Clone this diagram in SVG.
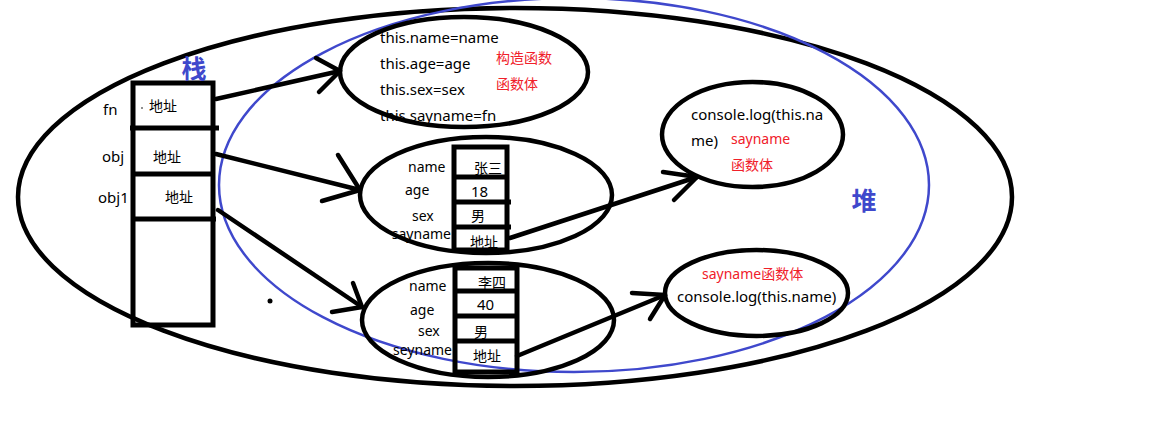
<svg xmlns="http://www.w3.org/2000/svg" width="1160" height="433" viewBox="0 0 1160 433">
<style>
.e{fill:none;stroke:#000;stroke-width:4.5}
.b{fill:none;stroke:#3f48cc;stroke-width:2.5}
.k{fill:none;stroke:#000;stroke-width:5}
.c{stroke:#000;stroke-width:4.5;fill:none;stroke-linecap:round;stroke-linejoin:round}
.t{font-family:"Noto Sans","Noto Sans CJK SC",sans-serif;font-size:15px;fill:#000}
.s{font-family:"Noto Sans","Noto Sans CJK SC",sans-serif;font-size:14px;fill:#000}
.z{font-family:"Noto Sans CJK SC",sans-serif;font-size:14px;fill:#000}
.r{font-family:"Noto Sans","Noto Sans CJK SC",sans-serif;font-size:14px;fill:#f0202a}
.h{font-family:"Noto Sans CJK SC",sans-serif;font-size:25px;font-weight:bold;fill:#3f48cc}
</style>
<rect width="1160" height="433" fill="#fff"/>
<g id="heap-region">
<ellipse class="e" cx="515" cy="197" rx="497" ry="189"/>
<ellipse class="b" cx="574" cy="185" rx="355" ry="187"/>
<text class="h" x="864" y="210" text-anchor="middle">堆</text>
</g>
<g id="stack">
<rect class="k" x="133" y="83" width="80" height="242"/>
<line class="k" x1="130" y1="128" x2="219" y2="128"/>
<line class="k" x1="133" y1="174" x2="213" y2="174"/>
<line class="k" x1="133" y1="219" x2="216" y2="219"/>
<text class="h" x="194" y="78" text-anchor="middle">栈</text>
<text class="t" x="103" y="115">fn</text>
<text class="z" x="149" y="111">地址</text>
<circle cx="142" cy="108" r="0.8" fill="#000"/>
<text class="t" x="102" y="162">obj</text>
<text class="z" x="153" y="162">地址</text>
<text class="t" x="98" y="203">obj1</text>
<text class="z" x="165" y="202">地址</text>
</g>
<g id="constructor">
<ellipse class="e" cx="464" cy="72" rx="124" ry="55"/>
<text class="t" x="380" y="43">this.name=name</text>
<text class="t" x="380" y="69">this.age=age</text>
<text class="t" x="380" y="95">this.sex=sex</text>
<text class="t" x="380" y="121">this.sayname=fn</text>
<text class="r" x="496" y="63">构造函数</text>
<text class="r" x="496" y="89">函数体</text>
</g>
<g id="obj">
<ellipse class="e" cx="486" cy="195" rx="126" ry="58"/>
<rect class="k" x="454" y="147" width="53" height="103"/>
<line class="k" x1="454" y1="177" x2="507" y2="177"/>
<line class="k" x1="454" y1="202" x2="511" y2="202"/>
<line class="k" x1="454" y1="227" x2="511" y2="227"/>
<text class="s" x="408" y="172">name</text>
<text class="z" x="474" y="173">张三</text>
<text class="s" x="405" y="195">age</text>
<text class="t" x="471" y="197">18</text>
<text class="s" x="412" y="221">sex</text>
<text class="z" x="471" y="221">男</text>
<text class="s" x="451" y="239" text-anchor="end">sayname</text>
<text class="z" x="470" y="247">地址</text>
</g>
<g id="obj1">
<ellipse class="e" cx="488" cy="320" rx="126" ry="57"/>
<rect class="k" x="455" y="268" width="62" height="104"/>
<line class="k" x1="455" y1="291" x2="519" y2="291"/>
<line class="k" x1="455" y1="316" x2="517" y2="316"/>
<line class="k" x1="455" y1="341" x2="517" y2="341"/>
<text class="s" x="409" y="291">name</text>
<text class="z" x="478" y="288">李四</text>
<text class="s" x="410" y="315">age</text>
<text class="t" x="477" y="310">40</text>
<text class="s" x="418" y="336">sex</text>
<text class="z" x="474" y="337">男</text>
<text class="s" x="452" y="355" text-anchor="end">seyname</text>
<text class="z" x="473" y="361">地址</text>
</g>
<g id="sayname-fn-1">
<ellipse class="e" cx="752.5" cy="134.5" rx="90.5" ry="52.5"/>
<text class="t" x="691" y="120">console.log(this.na</text>
<text class="t" x="691" y="146">me)</text>
<text class="r" x="731" y="144">sayname</text>
<text class="r" x="731" y="170">函数体</text>
</g>
<g id="sayname-fn-2">
<ellipse class="e" cx="756.5" cy="293" rx="91.5" ry="43"/>
<text class="r" x="702" y="279">sayname函数体</text>
<text class="t" x="677" y="302">console.log(this.name)</text>
</g>
<g id="connectors">
<line class="c" x1="216" y1="99" x2="340" y2="71"/>
<polyline class="c" points="316,58 340,71 319,92"/>
<line class="c" x1="216" y1="154" x2="360" y2="190"/>
<polyline class="c" points="338,155 360,190 322,201"/>
<line class="c" x1="218" y1="210" x2="362" y2="307"/>
<polyline class="c" points="353,283 362,307 332,312"/>
<line class="c" x1="510" y1="238" x2="697" y2="177"/>
<polyline class="c" points="663,172 697,177 674,200"/>
<line class="c" x1="517" y1="356" x2="665" y2="295"/>
<polyline class="c" points="632,293 665,295 650,319"/>
</g>
<circle cx="270" cy="301" r="2.5" fill="#000"/>
</svg>
